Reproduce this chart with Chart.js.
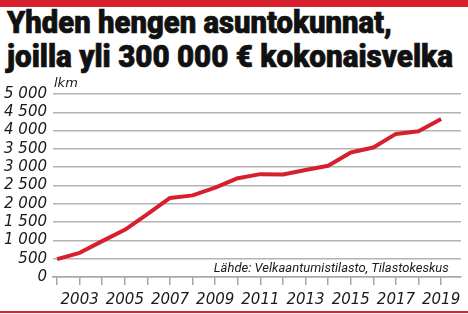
<!DOCTYPE html>
<html>
<head>
<meta charset="utf-8">
<script src="https://cdn.jsdelivr.net/npm/chart.js@4"></script>
<style>
  html, body { margin: 0; padding: 0; background: #fff; }
  #wrap { position: relative; width: 468px; height: 314px; overflow: hidden; background: #fff; }
  #topbar { position: absolute; left: 0; top: 0; width: 468px; height: 7px; background: #d7202e; }
  #botbar { position: absolute; left: 0; top: 311px; width: 468px; height: 2px; background: #d7202e; }
  .title { position: absolute; left: 7px; font-family: Roboto, "DejaVu Sans", sans-serif; font-weight: 900;
           font-size: 31px; line-height: 31px; color: #111; white-space: nowrap; transform-origin: left top;
           -webkit-text-stroke: 0.7px #111; }
  #src { position: absolute; right: 19px; top: 261px; font-family: Roboto, sans-serif; font-style: italic;
         font-size: 13.5px; line-height: 13.5px; color: #1a1a1a; white-space: nowrap; transform-origin: right top; }
  #unit { position: absolute; left: 54px; top: 76px; font-family: "DejaVu Sans", sans-serif; font-style: italic;
          font-size: 13px; line-height: 13px; color: #1a1a1a; white-space: nowrap; }
  #c { position: absolute; left: 0; top: 0; }
</style>
</head>
<body>
<div id="wrap">
  <div id="topbar"></div>
  <div class="title" id="t1" style="top:7px">Yhden hengen asuntokunnat,</div>
  <div class="title" id="t2" style="top:41px">joilla yli 300 000 € kokonaisvelka</div>
  <canvas id="c" width="468" height="314"></canvas>
  <div id="unit">lkm</div>
  <div id="src">Lähde: Velkaantumistilasto, Tilastokeskus</div>
  <div id="botbar"></div>
</div>
<script>
const years = [2002, 2003, 2004, 2005, 2006, 2007, 2008, 2009, 2010, 2011, 2012, 2013, 2014, 2015, 2016, 2017, 2018, 2019];
const households = [490, 660, 980, 1290, 1720, 2160, 2230, 2440, 2700, 2810, 2800, 2925, 3040, 3400, 3540, 3910, 3980, 4320];
const yTickValues = [0, 500, 1000, 1500, 2000, 2500, 3000, 3500, 4000, 4500, 5000];
const xLabelYears = [2003, 2005, 2007, 2009, 2011, 2013, 2015, 2017, 2019];

function fitWidth(id, target) {
  const el = document.getElementById(id);
  const w = el.getBoundingClientRect().width;
  el.style.transform = 'scaleX(' + (target / w) + ')';
}
fitWidth('t1', 385);
fitWidth('t2', 446);
fitWidth('src', 235);

const fmt = v => String(v).replace(/\B(?=(\d{3})+(?!\d))/g, ' ');

new Chart(document.getElementById('c'), {
  type: 'line',
  data: {
    datasets: [{
      data: years.map((y, i) => ({ x: y, y: households[i] })),
      borderColor: '#d7202e',
      borderWidth: 4,
      pointRadius: 0,
      tension: 0,
      borderJoinStyle: 'round',
      borderCapStyle: 'butt'
    }]
  },
  options: {
    responsive: false,
    animation: false,
    layout: { padding: { top: 94, right: 7, left: 0, bottom: 0 } },
    plugins: { legend: { display: false }, tooltip: { enabled: false } },
    scales: {
      x: {
        type: 'linear',
        min: 2001.82,
        max: 2019.88,
        afterFit: s => { s.height = 37; },
        ticks: {
          stepSize: 1,
          includeBounds: false,
          autoSkip: false,
          maxRotation: 0,
          padding: 6,
          color: '#1a1a1a',
          font: { family: 'DejaVu Sans', style: 'italic', size: 15 },
          callback: v => xLabelYears.includes(Math.round(v)) ? String(Math.round(v)) : ''
        },
        grid: { drawOnChartArea: false, drawTicks: true, tickLength: 8, color: '#a8a8a8', lineWidth: 1.5 },
        border: { display: true, color: '#a8a8a8', width: 1.5 }
      },
      y: {
        min: 0,
        max: 5000,
        afterFit: s => { s.width = 53; },
        afterBuildTicks: s => { s.ticks = yTickValues.map(v => ({ value: v })); },
        ticks: {
          autoSkip: false,
          padding: 6,
          color: '#1a1a1a',
          font: { family: 'DejaVu Sans', style: 'italic', size: 15 },
          callback: v => fmt(v)
        },
        grid: { drawTicks: false, color: '#b3b3b3', lineWidth: 1.5 },
        border: { display: false }
      }
    }
  }
});
</script>
</body>
</html>
